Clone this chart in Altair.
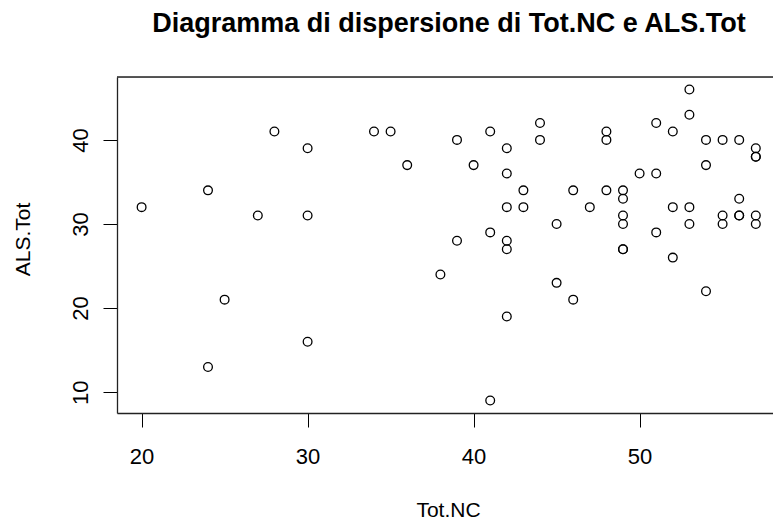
import altair as alt
import pandas as pd

# Tot.NC values
tot_nc = [20, 24, 24, 25, 27, 28, 30, 30, 30, 34, 35, 36, 38,
          39, 39, 40, 41, 41, 41, 42, 42, 42, 42, 42, 42,
          43, 43, 44, 44, 45, 45, 46, 46, 47, 48, 48, 48,
          49, 49, 49, 49, 49, 49, 50, 51, 51, 51, 52, 52, 52,
          53, 53, 53, 53, 54, 54, 54, 55, 55, 55, 56, 56, 56, 56,
          57, 57, 57, 57, 57]
# ALS.Tot values
als_tot = [32, 34, 13, 21, 31, 41, 39, 31, 16, 41, 41, 37, 24,
           40, 28, 37, 41, 29, 9, 39, 36, 32, 28, 27, 19,
           34, 32, 42, 40, 30, 23, 34, 21, 32, 41, 40, 34,
           34, 33, 31, 30, 27, 27, 36, 42, 36, 29, 41, 32, 26,
           46, 43, 32, 30, 40, 37, 22, 40, 31, 30, 40, 33, 31, 31,
           39, 38, 38, 31, 30]

x_ticks = [20, 30, 40, 50]
y_ticks = [10, 20, 30, 40]

df = pd.DataFrame({"tot_nc": tot_nc, "als_tot": als_tot})

W, H = 656, 336
FONT = "Liberation Sans"

points = alt.Chart(df).mark_point(
    shape="circle", filled=False, color="black", size=76, strokeWidth=1.3, opacity=1
).encode(
    x=alt.X("tot_nc:Q",
            scale=alt.Scale(domain=[18.518, 58.036], nice=False, zero=False),
            axis=alt.Axis(values=x_ticks, title="Tot.NC", grid=False,
                          tickSize=14, tickColor="black", tickWidth=1,
                          domainColor="#222", domainWidth=1.3,
                          labelFont=FONT, labelFontSize=22, labelColor="black",
                          labelBaseline="alphabetic", labelPadding=36,
                          titleFont=FONT, titleFontSize=21, titleFontWeight="normal",
                          titleColor="black", titleBaseline="alphabetic",
                          titleY=103, titleX=331)),
    y=alt.Y("als_tot:Q",
            scale=alt.Scale(domain=[7.52, 47.48], nice=False, zero=False),
            axis=alt.Axis(values=y_ticks, title="ALS.Tot", grid=False,
                          tickSize=14, tickColor="black", tickWidth=1,
                          domainColor="#222", domainWidth=1.3,
                          labelFont=FONT, labelFontSize=22, labelColor="black",
                          labelAngle=270, labelAlign="center",
                          labelBaseline="alphabetic", labelPadding=16,
                          titleFont=FONT, titleFontSize=21, titleFontWeight="normal",
                          titleColor="black", titleBaseline="alphabetic",
                          titleAngle=270, titleX=-88, titleY=162)),
)

top_border = alt.Chart(pd.DataFrame({"a": [0]})).mark_rule(
    color="#222", strokeWidth=1.3
).encode(x=alt.value(0), x2=alt.value(W), y=alt.value(0))

chart = alt.layer(points, top_border).properties(
    width=W, height=H,
    autosize=alt.AutoSizeParams(type="none"),
    padding={"left": 117, "top": 77, "right": 0, "bottom": 108},
    title=alt.TitleParams(
        text="Diagramma di dispersione di Tot.NC e ALS.Tot",
        font=FONT, fontSize=27, fontWeight="bold", color="black",
        anchor="middle", frame="group", dx=4, baseline="alphabetic", offset=17,
    ),
).configure_view(stroke=None).configure(background="white")

chart.save("out.html", embed_options={"renderer": "svg", "actions": False})
